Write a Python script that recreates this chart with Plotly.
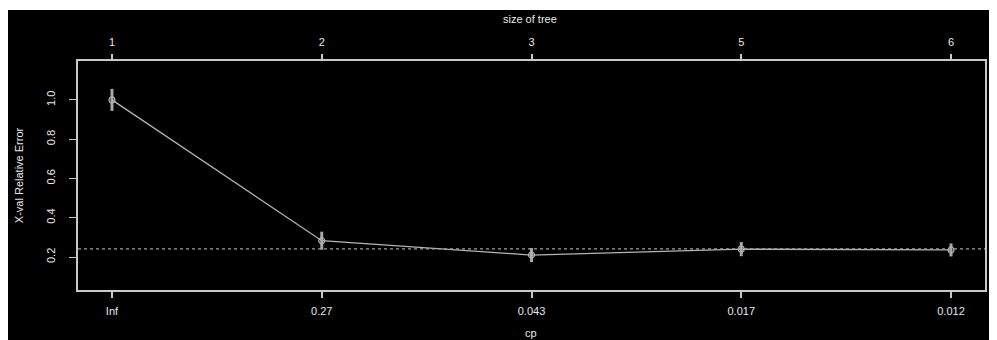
import plotly.graph_objects as go

cp_labels = ["Inf", "0.27", "0.043", "0.017", "0.012"]
tree_sizes = ["1", "2", "3", "5", "6"]
xerror = [1.0, 0.283, 0.21, 0.24, 0.236]
xstd = [0.056, 0.046, 0.036, 0.036, 0.033]
min_line = 0.241
y_ticks = [0.2, 0.4, 0.6, 0.8, 1.0]

pos = list(range(1, len(cp_labels) + 1))

FG = "#e8e8e8"
AX = "#c8c8c8"
LN = "#b4b4b4"
FONT = "Liberation Sans, Arial, sans-serif"

fig = go.Figure()
fig.add_trace(go.Scatter(
    x=pos, y=xerror, mode="lines+markers",
    line=dict(color=LN, width=1.3),
    marker=dict(symbol="circle-open", size=6, color=LN, line=dict(width=1.2)),
    error_y=dict(type="data", array=xstd, visible=True, thickness=3, width=0, color="#a8a8a8"),
    showlegend=False, hoverinfo="skip",
))
# invisible trace to activate the top axis
fig.add_trace(go.Scatter(x=pos, y=xerror, xaxis="x2", mode="markers",
                         marker=dict(opacity=0), showlegend=False, hoverinfo="skip"))

fig.add_shape(type="line", xref="paper", yref="y", x0=0, x1=1, y0=min_line, y1=min_line,
              line=dict(color="#a0a0a0", width=1.2, dash="dot"))

# white strip on top (photo border); page body margin provides the rest
fig.add_shape(type="rect", xref="paper", yref="paper", x0=-0.2, x1=1.2,
              y0=(282 - 2) / 229, y1=1.5, fillcolor="white", line=dict(width=0), layer="above")

fig.update_layout(
    width=989, height=332,
    margin=dict(l=70, r=10, t=53, b=50),
    paper_bgcolor="black", plot_bgcolor="black",
    font=dict(family=FONT, size=11, color=FG),
    xaxis=dict(
        range=[0.838, 5.162], tickmode="array", tickvals=pos, ticktext=cp_labels,
        showgrid=False, zeroline=False, showline=True, linecolor=AX, linewidth=1.5, mirror=True,
        ticks="outside", ticklen=6, tickwidth=2, tickcolor=AX, ticklabelstandoff=4,
    ),
    xaxis2=dict(
        range=[0.838, 5.162], tickmode="array", tickvals=pos, ticktext=tree_sizes,
        overlaying="x", side="top", showgrid=False, zeroline=False, showline=False,
        ticks="outside", ticklen=6, tickwidth=2, tickcolor=AX, ticklabelstandoff=4,
    ),
    yaxis=dict(
        range=[0.032, 1.198], tickmode="array", tickvals=y_ticks,
        ticktext=["0.2", "0.4", "0.6", "0.8", "1.0"], tickangle=-90,
        showgrid=False, zeroline=False, showline=True, linecolor=AX, linewidth=1.5, mirror=True,
        ticks="outside", ticklen=7, tickwidth=1, tickcolor=AX, ticklabelstandoff=10,
    ),
    annotations=[
        dict(text="cp", xref="paper", yref="paper", x=(532 - 78) / 909, y=(290 - 333) / 229,
             showarrow=False, xanchor="center", yanchor="middle", font=dict(size=11, color=FG)),
        dict(text="size of tree", xref="paper", yref="paper", x=(531 - 78) / 909, y=(290 - 19) / 229,
             showarrow=False, xanchor="center", yanchor="middle", font=dict(size=11, color=FG)),
        dict(text="X-val Relative Error", xref="paper", yref="paper", x=(19 - 78) / 909,
             y=(290 - 175) / 229, textangle=-90,
             showarrow=False, xanchor="center", yanchor="middle", font=dict(size=11, color=FG)),
    ],
)

fig.write_html("out.html")
